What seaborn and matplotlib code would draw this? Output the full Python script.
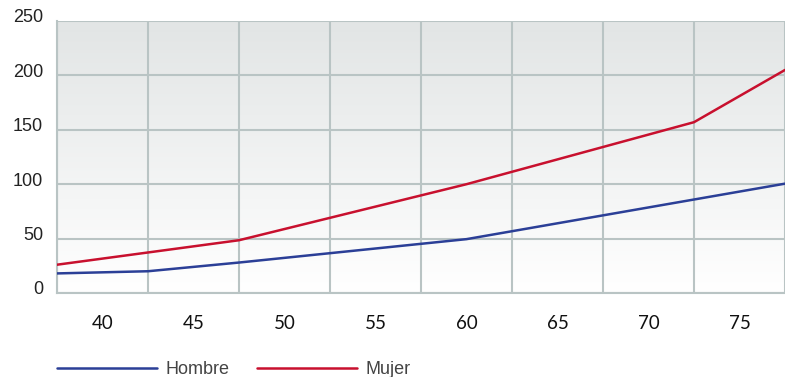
import numpy as np
import pandas as pd
import matplotlib.pyplot as plt
import matplotlib.transforms as mtransforms
import seaborn as sns

# values (age on x, rate on y)
edad_hombre = [37.5, 42.5, 47.5, 60, 77.5]
valor_hombre = [18, 20, 28, 49.5, 100.5]
edad_mujer = [37.5, 47.5, 60, 72.5, 77.5]
valor_mujer = [26, 48.5, 100, 157, 205]
x_ticks = [40, 45, 50, 55, 60, 65, 70, 75]
y_ticks = [0, 50, 100, 150, 200, 250]

df = pd.concat([
    pd.DataFrame({'edad': edad_hombre, 'valor': valor_hombre, 'sexo': 'Hombre'}),
    pd.DataFrame({'edad': edad_mujer, 'valor': valor_mujer, 'sexo': 'Mujer'}),
])

sns.set_style('white')
plt.rcParams['font.family'] = ['Liberation Sans', 'DejaVu Sans']

fig = plt.figure(figsize=(7.85, 3.77), dpi=100)
ax = fig.add_axes([57 / 785, 1 - 293 / 377, 1 - 57 / 785, (293 - 21) / 377])

# background gradient, grey at top to white at bottom
grad = np.linspace(0, 1, 256).reshape(-1, 1)
top = np.array([0.886, 0.898, 0.898])
bottom = np.array([1.0, 1.0, 1.0])
img = top + (bottom - top) * grad[..., None]
ax.imshow(img, extent=[0, 1, 0, 1], transform=ax.transAxes, aspect='auto', zorder=0)

palette = {'Hombre': '#2b3f97', 'Mujer': '#c8102e'}
sns.lineplot(data=df, x='edad', y='valor', hue='sexo', palette=palette,
             linewidth=1.8, ax=ax, zorder=3, legend=False)

ax.set_xlim(37.5, 77.5)
ax.set_ylim(0, 250)
ax.set_xticks(x_ticks)
ax.set_xticks(np.arange(37.5, 78, 5), minor=True)
ax.set_yticks(y_ticks)
grid_color = '#b9c4c4'
ax.grid(False)
ax.grid(True, which='minor', axis='x', color=grid_color, linewidth=1.5, zorder=1)
ax.grid(True, which='major', axis='y', color=grid_color, linewidth=1.5, zorder=1)
ax.set_axisbelow(True)
ax.tick_params(which='both', length=0)
ax.tick_params(axis='y', pad=10, labelsize=13, labelcolor='#222222')
ax.tick_params(axis='x', pad=16, labelsize=13.5, labelcolor='#111111')
for lab in ax.get_xticklabels():
    lab.set_family('Lato')
# y labels sit a little above their gridlines
shift = mtransforms.ScaledTranslation(0, 5 / 100, fig.dpi_scale_trans)
for lab in ax.get_yticklabels():
    lab.set_transform(lab.get_transform() + shift)
for s in ['top', 'right']:
    ax.spines[s].set_visible(False)
for s in ['left', 'bottom']:
    ax.spines[s].set_color(grid_color)
    ax.spines[s].set_linewidth(1.5)
ax.set_xlabel('')
ax.set_ylabel('')

handles = [plt.Line2D([], [], color=palette[k], linewidth=1.8) for k in ['Hombre', 'Mujer']]
fig.legend(handles, ['Hombre', 'Mujer'], loc='lower left', bbox_to_anchor=(57 / 785, -1 / 377),
           ncol=2, frameon=False, fontsize=13, handlelength=5.55, handletextpad=0.44,
           columnspacing=1.55, borderpad=0, borderaxespad=0, labelcolor='#444444')

fig.savefig('out.png', dpi=100)
